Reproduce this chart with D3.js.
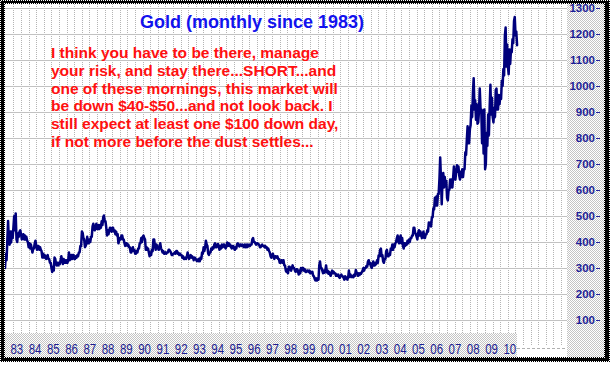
<!DOCTYPE html>
<html><head><meta charset="utf-8">
<script src="https://cdn.jsdelivr.net/npm/d3@7"></script>
<style>body{margin:0;background:#fff}svg{display:block}</style>
</head><body>
<script>
// ---- data (monthly high / low, USD/oz), starting July 1982 ----
const startYear = 1982, startMonth = 6; // 0-based month index (July)
const monthlyHigh = [
  355, 411, 481, 440, 440, 457,                                   // 1982 Jul-Dec
  499, 510, 433, 440, 445, 420, 430, 425, 420, 400, 395, 390,     // 1983
  375, 395, 405, 385, 385, 380, 365, 355, 350, 345, 350, 335,     // 1984
  320, 305, 340, 335, 320, 320, 330, 345, 335, 330, 330, 330,     // 1985
  360, 350, 350, 350, 345, 350, 360, 385, 440, 435, 410, 395,     // 1986
  420, 410, 420, 460, 470, 460, 470, 465, 465, 480, 495, 502,     // 1987
  480, 445, 445, 455, 455, 455, 445, 440, 430, 415, 425, 425,     // 1988
  410, 395, 395, 390, 380, 375, 380, 370, 365, 375, 395, 415,     // 1989
  420, 425, 410, 380, 375, 360, 370, 410, 410, 390, 385, 380,     // 1990
  395, 370, 365, 360, 360, 370, 370, 360, 355, 360, 365, 365,     // 1991
  358, 355, 350, 345, 340, 345, 360, 345, 350, 345, 340, 338,     // 1992
  332, 335, 340, 360, 380, 380, 405, 385, 360, 375, 380, 390,     // 1993
  395, 390, 392, 385, 390, 390, 390, 385, 398, 395, 390, 385,     // 1994
  385, 380, 392, 395, 390, 390, 390, 390, 390, 390, 390, 390,     // 1995
  410, 415, 400, 395, 395, 390, 385, 390, 385, 385, 380, 375,     // 1996
  360, 350, 355, 345, 345, 345, 335, 330, 330, 330, 310, 295,     // 1997
  305, 305, 300, 310, 300, 295, 295, 290, 300, 300, 300, 295,     // 1998
  290, 290, 290, 285, 285, 268, 260, 260, 310, 325, 300, 290,     // 1999
  290, 310, 290, 285, 280, 290, 285, 280, 275, 275, 270, 275,     // 2000
  268, 268, 265, 265, 290, 275, 270, 275, 292, 285, 280, 280,     // 2001
  285, 300, 300, 308, 325, 330, 320, 315, 325, 320, 330, 348,     // 2002
  370, 375, 350, 335, 365, 370, 355, 375, 390, 390, 395, 415,     // 2003
  425, 415, 425, 415, 395, 395, 405, 410, 415, 425, 455, 455,     // 2004
  430, 435, 445, 440, 430, 440, 430, 445, 475, 475, 495, 530,     // 2005
  570, 575, 585, 645, 725, 635, 665, 650, 635, 600, 640, 640,     // 2006
  650, 690, 670, 695, 690, 670, 680, 680, 745, 795, 845, 835,     // 2007
  925, 975, 1030, 945, 930, 905, 990, 910, 905, 910, 820, 890,    // 2008
  920, 1005, 955, 915, 985, 990, 965, 965, 1020, 1065, 1195, 1225,// 2009
  1160, 1140, 1140, 1180, 1250, 1265, 1210                        // 2010 Jan-Jul
];
const monthlyLow = [
  300, 330, 400, 390, 398, 415,
  445, 410, 400, 420, 430, 410, 410, 410, 405, 380, 375, 375,
  360, 375, 385, 370, 370, 370, 340, 340, 340, 335, 335, 320,
  300, 285, 290, 315, 310, 310, 315, 330, 315, 320, 320, 320,
  330, 335, 335, 335, 335, 340, 345, 360, 385, 415, 380, 385,
  395, 395, 400, 420, 450, 445, 450, 450, 450, 455, 465, 480,
  455, 425, 430, 445, 440, 440, 430, 425, 395, 405, 410, 410,
  395, 385, 385, 380, 360, 360, 365, 355, 355, 360, 375, 395,
  400, 415, 370, 370, 360, 345, 350, 365, 385, 370, 375, 370,
  375, 360, 355, 355, 355, 360, 365, 350, 350, 355, 355, 355,
  350, 350, 340, 335, 335, 335, 345, 335, 340, 340, 330, 332,
  327, 326, 326, 335, 355, 365, 390, 355, 350, 360, 370, 375,
  380, 380, 380, 370, 375, 380, 380, 375, 385, 385, 380, 375,
  375, 370, 375, 388, 383, 385, 383, 380, 380, 380, 383, 385,
  390, 400, 395, 390, 390, 380, 380, 385, 380, 378, 370, 365,
  345, 340, 345, 335, 340, 335, 320, 320, 320, 310, 290, 285,
  280, 295, 290, 300, 290, 285, 288, 275, 280, 290, 290, 285,
  285, 285, 280, 280, 270, 258, 252, 252, 255, 300, 290, 280,
  282, 283, 278, 275, 270, 280, 280, 270, 270, 265, 262, 268,
  262, 255, 258, 255, 265, 268, 265, 265, 270, 278, 270, 273,
  278, 290, 290, 300, 305, 315, 305, 300, 310, 310, 315, 320,
  345, 345, 325, 320, 335, 345, 345, 350, 370, 370, 380, 400,
  400, 395, 395, 385, 375, 385, 390, 395, 400, 415, 425, 435,
  420, 410, 425, 425, 415, 415, 415, 430, 440, 465, 460, 495,
  525, 540, 540, 585, 640, 545, 610, 615, 570, 560, 600, 610,
  610, 650, 640, 670, 655, 640, 650, 650, 680, 735, 780, 780,
  850, 880, 910, 870, 855, 860, 910, 780, 740, 680, 700, 770,
  810, 890, 880, 860, 880, 910, 910, 930, 950, 1000, 1040, 1075,
  1075, 1045, 1085, 1130, 1165, 1195, 1157
];
const yTicks = [100, 200, 300, 400, 500, 600, 700, 800, 900, 1000, 1100, 1200, 1300];
const xYears = d3.range(1983, 2011);
const titleText = "Gold (monthly since 1983)";
const noteLines = [
  "I think you have to be there, manage",
  "your risk, and stay there...SHORT...and",
  "one of these mornings, this market will",
  "be down $40-$50...and not look back. I",
  "still expect at least one $100 down day,",
  "if not more before the dust settles..."
];

// ---- chart ----
const W = 612, H = 367;
const svg = d3.select("body").append("svg").attr("width", W).attr("height", H);
const defs = svg.append("defs");
const pg = defs.append("pattern").attr("id", "chk").attr("width", 2).attr("height", 2)
  .attr("patternUnits", "userSpaceOnUse");
pg.append("rect").attr("width", 2).attr("height", 2).attr("fill", "#fff");
pg.append("rect").attr("width", 1).attr("height", 1).attr("fill", "#c4c4c4");
pg.append("rect").attr("x", 1).attr("y", 1).attr("width", 1).attr("height", 1).attr("fill", "#c4c4c4");
const pb = defs.append("pattern").attr("id", "chkB").attr("width", 2).attr("height", 2)
  .attr("patternUnits", "userSpaceOnUse");
pb.append("rect").attr("width", 2).attr("height", 2).attr("fill", "#fff");
pb.append("rect").attr("width", 1).attr("height", 1).attr("fill", "#000");
pb.append("rect").attr("x", 1).attr("y", 1).attr("width", 1).attr("height", 1).attr("fill", "#000");
defs.append("clipPath").attr("id", "plotClip").append("rect")
  .attr("x", 5).attr("y", 4).attr("width", 562).attr("height", 342);

// frame
svg.append("rect").attr("x", 0).attr("y", 0).attr("width", 610).attr("height", 362).attr("fill", "url(#chkB)");
svg.append("rect").attr("x", 1).attr("y", 1).attr("width", 608).attr("height", 360).attr("fill", "#000");
svg.append("rect").attr("x", 4).attr("y", 3).attr("width", 601).attr("height", 355).attr("fill", "url(#chkB)");
svg.append("rect").attr("x", 5).attr("y", 4).attr("width", 599).attr("height", 353).attr("fill", "#fff");

const x = d3.scaleLinear().domain([1983.12, 2010.45]).range([16, 515]);
const y = d3.scaleLinear().domain([0, 1200]).range([346, 34]);

// right axis band
svg.append("rect").attr("x", 567).attr("y", 4).attr("width", 37).attr("height", 353).attr("fill", "url(#chk)");

// grid
const grid = svg.append("g");
const vGrid = d3.range(0, 73).map(k => 1983.0 + k * 5 / 12).filter(t => x(t) < 567);
grid.selectAll("line.v").data(vGrid).join("line")
  .attr("x1", d => x(d)).attr("x2", d => x(d)).attr("y1", 4).attr("y2", 346)
  .attr("stroke", "#b4b4b4").attr("stroke-width", 1).attr("stroke-dasharray", "1,1")
  .attr("shape-rendering", "crispEdges");
grid.selectAll("line.h").data(yTicks).join("line")
  .attr("x1", 5).attr("x2", 567).attr("y1", d => Math.round(y(d)) + 0.5).attr("y2", d => Math.round(y(d)) + 0.5)
  .attr("stroke", "#c2c2c2").attr("stroke-width", 1);
svg.append("line").attr("x1", 517).attr("x2", 567).attr("y1", 348.5).attr("y2", 348.5)
  .attr("stroke", "#b0b0b0").attr("stroke-dasharray", "3,2");

// data path (zigzag through monthly low/high)
const months = monthlyHigh.map((h, i) => {
  const mi = startMonth + i;
  return { t: startYear + Math.floor(mi / 12) + ((mi % 12) + 0.5) / 12, hi: h, lo: monthlyLow[i] };
});
const pts = [];
months.forEach((m, i) => {
  const mid = (m.hi + m.lo) / 2;
  const ref = i < months.length - 1 ? (months[i + 1].hi + months[i + 1].lo) / 2 : mid - 1;
  const up = ref >= mid;
  const a = up ? m.lo : m.hi, b = up ? m.hi : m.lo;
  pts.push([x(m.t) - 0.4, y(a)], [x(m.t) + 0.4, y(b)]);
});
svg.append("path").attr("clip-path", "url(#plotClip)")
  .attr("d", d3.line()(pts))
  .attr("fill", "none").attr("stroke", "#00007c").attr("stroke-width", 2.5)
  .attr("stroke-linejoin", "round").attr("stroke-linecap", "round");

// bottom label band + year labels
svg.append("rect").attr("x", 5).attr("y", 333).attr("width", 512).attr("height", 24).attr("fill", "url(#chk)");
const xAxis = svg.append("g").attr("transform", "translate(0,342)")
  .call(d3.axisBottom(x).tickValues(xYears).tickSize(0).tickPadding(0)
    .tickFormat(d => String(d).slice(2)));
xAxis.select(".domain").remove();
xAxis.selectAll("text")
  .attr("x", 2.5).attr("y", 11.8).attr("dy", null)
  .attr("font-family", "Liberation Sans, Arial, sans-serif").attr("font-size", 14)
  .attr("fill", "#1c1c90").attr("textLength", 12.8).attr("lengthAdjust", "spacingAndGlyphs");

// right value axis
const yAxis = svg.append("g").attr("transform", "translate(600,0)")
  .call(d3.axisLeft(y).tickValues(yTicks).tickSize(4).tickPadding(1).tickFormat(d3.format("d")));
yAxis.select(".domain").remove();
yAxis.selectAll("line").attr("stroke", "#22229a");
yAxis.selectAll("text")
  .attr("font-family", "Liberation Sans, Arial, sans-serif").attr("font-size", 11.5)
  .attr("font-weight", "bold").attr("fill", "#1e1e96");

// title
svg.append("text").attr("x", 140).attr("y", 27.5).text(titleText)
  .attr("font-family", "Liberation Sans, Arial, sans-serif").attr("font-size", 18)
  .attr("font-weight", "bold").attr("fill", "#1212ee");

// note
const note = svg.append("text")
  .attr("font-family", "Liberation Sans, Arial, sans-serif").attr("font-size", 15.5)
  .attr("font-weight", "bold").attr("fill", "#ff1010");
note.selectAll("tspan").data(noteLines).join("tspan")
  .attr("x", 51).attr("y", (d, i) => 58.3 + i * 17.65).text(d => d);

// redraw top border over clipped labels
svg.append("rect").attr("x", 1).attr("y", 1).attr("width", 608).attr("height", 2).attr("fill", "#000");
</script>
</body></html>
